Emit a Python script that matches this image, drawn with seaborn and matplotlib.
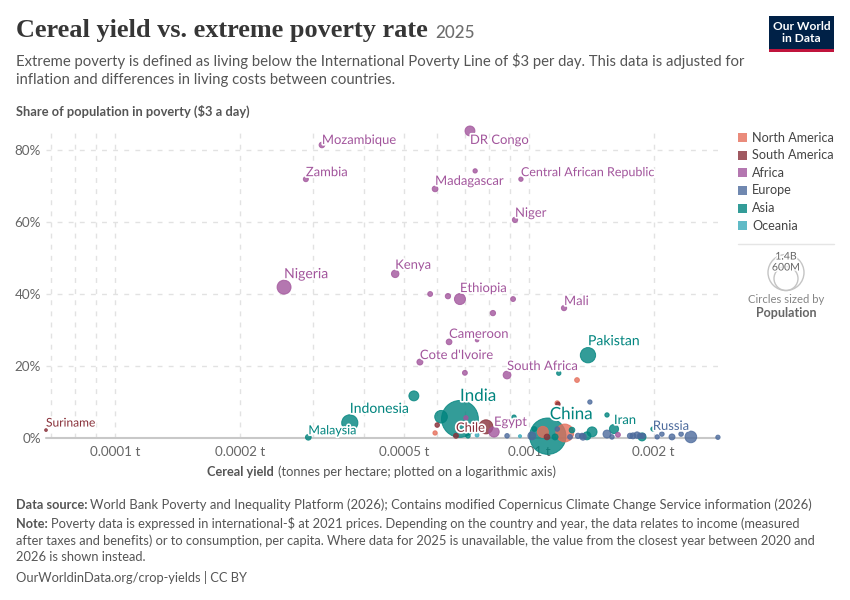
import matplotlib
matplotlib.use("Agg")
import matplotlib.pyplot as plt
import matplotlib.patheffects as pe
from matplotlib.patches import Rectangle, Circle
from matplotlib.ticker import NullFormatter
import pandas as pd
import seaborn as sns

# ---- data: cereal yield, poverty share, population (millions) ----
north_america_yield = [0.00108, 0.00122, 0.00117, 0.001306, 0.000593]
north_america_pov = [1.7, 1.4, 9.7, 16.1, 1.4]
north_america_pop = [130, 340, 22, 24, 20]

south_america_yield = [0.000787, 0.0006, 0.000666, 0.001105, 0.001175, 0.0000681]
south_america_pov = [3.1, 3.6, 0.6, 0.3, 9.4, 2.2]
south_america_pop = [210, 22, 25, 34, 20, 8]

africa_yield = [0.000316, 0.00072, 0.000289, 0.000593, 0.000741, 0.000956, 0.000925, 0.000256,
                0.000475, 0.000577, 0.000637, 0.000681, 0.000915, 0.000818, 0.001215, 0.000641,
                0.000749, 0.000545, 0.0007, 0.000885, 0.000823, 0.00164, 0.000704]
africa_pov = [81.4, 85.3, 71.9, 69.2, 74.2, 71.9, 60.6, 41.9, 45.6, 40.0, 39.4, 38.6, 38.6, 34.7,
              36.1, 26.7, 27.2, 21.1, 18.1, 17.5, 1.7, 0.9, 5.6]
africa_pop = [34, 105, 27, 35, 20, 20, 30, 208, 60, 25, 30, 130, 25, 30, 30, 35, 14, 38, 25, 65, 115, 25, 20]

europe_yield = [0.000885, 0.001016, 0.001403, 0.001543, 0.001586, 0.001754, 0.001783, 0.001824,
                0.001854, 0.001884, 0.00204, 0.002094, 0.002215, 0.00233, 0.00246, 0.00286,
                0.001343, 0.00135, 0.001313, 0.001256, 0.00117]
europe_pov = [0.6, 0.6, 10.0, 1.1, 0.3, 0.6, 0.6, 0.8, 0.6, 0.6, 0.3, 1.1, 0.3, 1.1, 0.3, 0.2,
              0.6, 0.3, 0.6, 0.3, 2.5]
europe_pop = [22, 68, 20, 68, 22, 30, 38, 45, 30, 30, 20, 22, 38, 22, 145, 20, 30, 45, 30, 24, 22]

asia_yield = [0.001388, 0.00118, 0.000527, 0.000681, 0.000613, 0.000369, 0.000293, 0.00111,
              0.001604, 0.001543, 0.00092, 0.00103, 0.001156, 0.00127, 0.00142, 0.00138,
              0.001875, 0.001993, 0.000712]
asia_pov = [23.0, 18.0, 11.7, 5.3, 5.9, 4.2, 0.2, 0.5, 2.5, 6.4, 5.8, 2.5, 0.3, 2.2, 1.7, 0.6,
            0.3, 2.5, 0.6]
asia_pop = [250, 20, 106, 1450, 170, 280, 35, 1410, 90, 20, 20, 24, 38, 34, 106, 68, 68, 20, 22]

oceania_yield = [0.000749, 0.000951]
oceania_pov = [0.8, 0.5]
oceania_pop = [16, 10]

continents = ["North America", "South America", "Africa", "Europe", "Asia", "Oceania"]
continent_colors = ["#E56E5A", "#883039", "#A2559C", "#4C6A9C", "#00847E", "#38AABA"]

labels = ["Mozambique", "DR Congo", "Zambia", "Madagascar", "Central African Republic", "Niger",
          "Nigeria", "Kenya", "Ethiopia", "Mali", "Cameroon", "Cote d'Ivoire", "South Africa",
          "Pakistan", "India", "Indonesia", "Malaysia", "Suriname", "Chile", "Egypt", "China",
          "Iran", "Russia"]
label_yield = [0.000316, 0.00072, 0.000289, 0.000593, 0.000956, 0.000925, 0.000256, 0.000475,
               0.000681, 0.001215, 0.000641, 0.000545, 0.000885, 0.001388, 0.000681, 0.000369,
               0.000293, 0.0000681, 0.000666, 0.000823, 0.00111, 0.001604, 0.00246]
label_pov = [81.4, 85.3, 71.9, 69.2, 71.9, 60.6, 41.9, 45.6, 38.6, 36.1, 26.7, 21.1, 17.5, 23.0,
             5.3, 4.2, 0.2, 2.2, 0.6, 1.7, 0.5, 2.5, 0.3]
label_color = (["Africa"] * 13 + ["Asia", "Asia", "Asia", "Asia", "South America", "South America",
                                   "Africa", "Asia", "Asia", "Europe"])
# label offset from its point in pixels (dx, dy up), font size in px
label_offsets = [(0, 5), (0, -9), (0, 7), (0, 8), (0, 7), (0, 7), (0, 13), (0, 9), (0, 11), (0, 7),
                 (0, 8), (0, 7), (0, 9), (0, 14), (0, 23), (0, 14), (0, 7), (0, 7), (0, 8),
                 (0, 10), (2, 22), (0, 9), (-38, 11)]
label_sizes = [13, 13, 13, 13, 12.5, 13, 14, 13, 13, 13, 13, 13, 13, 14, 17, 14, 12.5, 12, 13, 13, 17, 13, 13]

xticks = [0.0001, 0.0002, 0.0005, 0.001, 0.002]
xticklabels = ["0.0001 t", "0.0002 t", "0.0005 t", "0.001 t", "0.002 t"]
xminor = [0.00007, 0.00008, 0.00009, 0.0003, 0.0004, 0.0006, 0.0007, 0.0008, 0.0009]
yticks = [0, 20, 40, 60, 80]
yticklabels = ["0%", "20%", "40%", "60%", "80%"]

# ---- frame ----
frames = []
for name, xs, ys, ps in [
    ("North America", north_america_yield, north_america_pov, north_america_pop),
    ("South America", south_america_yield, south_america_pov, south_america_pop),
    ("Africa", africa_yield, africa_pov, africa_pop),
    ("Europe", europe_yield, europe_pov, europe_pop),
    ("Asia", asia_yield, asia_pov, asia_pop),
    ("Oceania", oceania_yield, oceania_pov, oceania_pop),
]:
    frames.append(pd.DataFrame({"continent": name, "yield": xs, "poverty": ys, "population": ps}))
df = pd.concat(frames, ignore_index=True).sort_values("population", ascending=False)

W, H = 850, 600
sns.set_theme(style="white")
plt.rcParams["font.family"] = ["Lato", "DejaVu Sans"]
fig = plt.figure(figsize=(W / 100, H / 100), dpi=100)
ax = fig.add_axes([46 / W, 1 - 438 / H, (718 - 46) / W, (438 - 130) / H])
palette = dict(zip(continents, continent_colors))


def px(size):
    return size * 0.72


# s = (2r * 0.72)^2 with r^2 = 0.235 * population(M)
sns.scatterplot(data=df, x="yield", y="poverty", hue="continent", palette=palette,
                size="population", size_norm=(1, 1500), sizes=(0.487, 730), alpha=0.8,
                edgecolor="face", linewidth=0.7, legend=False, ax=ax, clip_on=False, zorder=3)
ax.set_xscale("log")
ax.set_xlim(6.81e-5, 0.002861)
ax.set_ylim(0, 85.56)
ax.set_xticks(xticks)
ax.set_xticklabels(xticklabels)
ax.set_xticks(xminor, minor=True)
ax.xaxis.set_minor_formatter(NullFormatter())
ax.set_yticks(yticks)
ax.set_yticklabels(yticklabels)
ax.tick_params(axis="both", which="both", length=0, labelsize=px(13.5), labelcolor="#666666")
ax.tick_params(axis="x", pad=5.5)
ax.tick_params(axis="y", pad=3.5)
dash = (0, (3.5, 4.5))
ax.grid(True, which="both", axis="x", color="#e2e2e2", linestyle=dash, linewidth=1)
ax.grid(True, which="major", axis="y", color="#e2e2e2", linestyle=dash, linewidth=1)
ax.set_axisbelow(True)
for s in ax.spines.values():
    s.set_visible(False)
ax.set_xlabel("")
ax.set_ylabel("")
ax.axhline(0, color="#c8c8c8", lw=1.5, zorder=2, clip_on=False)

for name, x, y, c, off, sz in zip(labels, label_yield, label_pov, label_color, label_offsets, label_sizes):
    ax.annotate(name, xy=(x, y), xytext=off, textcoords="offset pixels", ha="left", va="center",
                color=palette[c], fontsize=px(sz), zorder=5,
                path_effects=[pe.withStroke(linewidth=2.5, foreground="white")])


def T(x, y, s, size, color="#555555", weight="normal", ha="left", family=None, **kw):
    return fig.text(x / W, 1 - y / H, s, fontsize=px(size), color=color, weight=weight, ha=ha,
                    va="center", family=family or ["Lato", "DejaVu Sans"], **kw)


T(16, 30, "Cereal yield vs. extreme poverty rate", 26.2, color="#363636", weight="bold",
  family=["Liberation Serif", "DejaVu Serif"])
T(435.5, 33.5, "2025", 17, color="#6e6e6e", weight="medium")
T(16, 61, "Extreme poverty is defined as living below the International Poverty Line of $3 per day. "
          "This data is adjusted for", 14.87)
T(16, 80, "inflation and differences in living costs between countries.", 14.87)
T(16, 111, "Share of population in poverty ($3 a day)", 12.95, weight="bold")

T(207, 472, "Cereal yield", 12.7, weight="bold")
T(278, 472, "(tonnes per hectare; plotted on a logarithmic axis)", 12.93)

T(16, 505, "Data source:", 12.75, weight="bold")
T(90, 505, "World Bank Poverty and Inequality Platform (2026); Contains modified Copernicus Climate "
           "Change Service information (2026)", 12.97)
T(16, 524, "Note:", 12.75, weight="bold")
T(51, 524, "Poverty data is expressed in international-$ at 2021 prices. Depending on the country and "
           "year, the data relates to income (measured", 12.95)
T(16, 541, "after taxes and benefits) or to consumption, per capita. Where data for 2025 is unavailable, "
           "the value from the closest year between 2020 and", 12.95)
T(16, 557, "2026 is shown instead.", 12.95)
T(16, 577, "OurWorldinData.org/crop-yields | CC BY", 12.95)

# logo
fig.add_artist(Rectangle((769 / W, 1 - 52 / H), 65 / W, 36 / H, transform=fig.transFigure,
                         facecolor="#002147", edgecolor="none"))
fig.add_artist(Rectangle((769 / W, 1 - 52 / H), 65 / W, 3 / H, transform=fig.transFigure,
                         facecolor="#C0143C", edgecolor="none"))
T(801.5, 26.5, "Our World", 12, color="white", weight="bold", ha="center")
T(801.5, 39, "in Data", 12, color="white", weight="bold", ha="center")

# colour legend
for i, (name, col) in enumerate(zip(continents, continent_colors)):
    yy = 137.6 + i * 17.6
    fig.add_artist(Rectangle((738 / W, 1 - (yy + 4.5) / H), 9 / W, 9 / H, transform=fig.transFigure,
                             facecolor=col, alpha=0.8, edgecolor="none"))
    T(752, yy, name, 12.6, color="#444444")

# size legend
fig.add_artist(plt.Line2D([738 / W, 834 / W], [1 - 244 / H, 1 - 244 / H], color="#e5e5e5", lw=1,
                          transform=fig.transFigure))
for r in (18, 12):
    fig.add_artist(Circle((786, H - (290.5 - r)), r, transform=None, facecolor="none",
                          edgecolor="#c4c4c4", lw=1))
T(786, 257, "1.4B", 10.5, ha="center", color="#666666",
  path_effects=[pe.withStroke(linewidth=2, foreground="white")])
T(786, 268, "600M", 10.5, ha="center", color="#666666",
  path_effects=[pe.withStroke(linewidth=2, foreground="white")])
T(786, 299.5, "Circles sized by", 11.3, ha="center", color="#858585")
T(786, 313, "Population", 12.5, ha="center", weight="bold", color="#666666")

fig.savefig("out.png", dpi=100)
